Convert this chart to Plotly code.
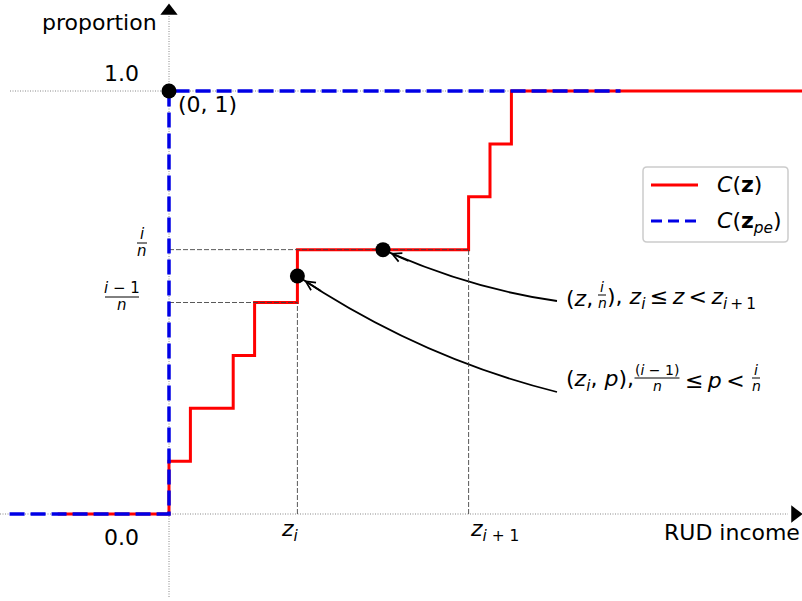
import plotly.graph_objects as go

# ---------------- data ----------------
z_steps = [0, 1, 3, 4, 6, 14, 15, 16]                       # jump points of C(z)
p_steps = [0.125, 0.25, 0.375, 0.5, 0.625, 0.75, 0.875, 1.0]  # proportions after each jump
red_start, red_end = -5.2, 30.0
blue_x = [-7.45, 0, 21.1]
blue_y = [0, 1, 1]
z_i, z_i1 = 6, 14
p_prev, p_i = 0.5, 0.625
pt_x = [0, 6, 10]
pt_y = [1.0, 0.5625, 0.625]

# ---------------- geometry ----------------
W, H = 802, 601
X0_PX, PX_X = 169, 21.4
Y0_PX, PX_Y = 514, 423
xr = [-X0_PX / PX_X, (W - X0_PX) / PX_X]
yr = [-(H - Y0_PX) / PX_Y, Y0_PX / PX_Y]


def dx(px):
    return (px - X0_PX) / PX_X


def dy(py):
    return (Y0_PX - py) / PX_Y


def paper(px, py):
    return px / W, 1 - py / H


FONT = "DejaVu Sans"
BASE = 22
TS = "\u2009"  # thin space

fig = go.Figure()

# red step function C(z)
red_x = [red_start] + z_steps + [red_end]
red_y = [0] + p_steps + [1.0]
fig.add_trace(go.Scatter(x=red_x, y=red_y, mode="lines", line_shape="hv",
                         line=dict(color="red", width=3), showlegend=False,
                         hoverinfo="skip"))

# guide dashed lines
gx = [0, z_i1, None, 0, z_i, None, z_i, z_i, None, z_i1, z_i1]
gy = [p_i, p_i, None, p_prev, p_prev, None, 0, p_prev, None, 0, p_i]
fig.add_trace(go.Scatter(x=gx, y=gy, mode="lines",
                         line=dict(color="rgba(60,60,60,0.85)", width=1, dash="5px,2px"),
                         showlegend=False, hoverinfo="skip"))

# blue dashed C(z_pe)
fig.add_trace(go.Scatter(x=blue_x, y=blue_y, mode="lines", line_shape="hv",
                         line=dict(color="#0000e6", width=3.5, dash="15px,6px"),
                         showlegend=False, hoverinfo="skip"))

# points
fig.add_trace(go.Scatter(x=pt_x, y=pt_y, mode="markers",
                         marker=dict(color="black", size=15),
                         showlegend=False, hoverinfo="skip"))

# axis arrow heads
fig.add_trace(go.Scatter(x=[dx(795), 0], y=[0, dy(11)], mode="markers",
                         marker=dict(color="black", size=15,
                                     symbol=["triangle-right", "triangle-up"]),
                         showlegend=False, hoverinfo="skip"))

shapes = []
dotted = dict(color="#888888", width=1, dash="1px,1.5px")
shapes.append(dict(type="line", xref="x", yref="y", x0=xr[0], x1=dx(788), y0=0, y1=0,
                   line=dotted, layer="below"))
shapes.append(dict(type="line", xref="x", yref="y", x0=0, x1=0, y0=dy(597), y1=dy(16),
                   line=dotted, layer="below"))
shapes.append(dict(type="line", xref="x", yref="y", x0=dx(10), x1=xr[1], y0=1, y1=1,
                   line=dotted, layer="below"))


# curved annotation arrows (quadratic bezier)
def curve(p0, c, p1):
    return dict(type="path", xref="x", yref="y",
                path=f"M {p0[0]},{p0[1]} Q {c[0]},{c[1]} {p1[0]},{p1[1]}",
                line=dict(color="black", width=1.8), layer="below")


shapes.append(curve((dx(557), dy(301)), (dx(471), dy(289)), (pt_x[2], pt_y[2])))
shapes.append(curve((dx(557), dy(392)), (dx(420), dy(358)), (pt_x[1], pt_y[1])))

annotations = []
annotations.append(dict(x=pt_x[2], y=pt_y[2], xref="x", yref="y", ax=27, ay=12,
                        text="", showarrow=True, arrowhead=5, arrowsize=1,
                        arrowwidth=1.8, standoff=8, arrowcolor="black"))
annotations.append(dict(x=pt_x[1], y=pt_y[1], xref="x", yref="y", ax=25, ay=16,
                        text="", showarrow=True, arrowhead=5, arrowsize=1,
                        arrowwidth=1.8, standoff=8, arrowcolor="black"))


def text(px, py, s, anchor="left", size=BASE, vanchor="middle"):
    x, y = paper(px, py)
    annotations.append(dict(x=x, y=y, xref="paper", yref="paper", text=s,
                            showarrow=False, xanchor=anchor, yanchor=vanchor,
                            font=dict(family=FONT, size=size, color="black"),
                            borderpad=0))


def frac(xc, ybar, num, den, barw, size=15):
    text(xc, ybar - 0.6 * size, num, anchor="center", size=size)
    text(xc, ybar + 0.55 * size, den, anchor="center", size=size)
    x0, y0 = paper(xc - barw / 2, ybar)
    x1, _ = paper(xc + barw / 2, ybar)
    shapes.append(dict(type="line", xref="paper", yref="paper", x0=x0, x1=x1,
                       y0=y0, y1=y0, line=dict(color="black", width=1)))


# axis labels / ticks
text(158, 23, "proportion", anchor="right")
text(121, 73, "1.0", anchor="center")
text(121, 537, "0.0", anchor="center")
text(801, 532, "RUD income", anchor="right")
text(290, 530, "<i>z<sub>i</sub></i>", anchor="center")
text(469, 530, "<i>z</i><sub><i>i</i> + 1</sub>", anchor="left")
text(177, 104, "(0, 1)", anchor="left")

# left fractions
frac(142, 243, "<i>i</i>", "<i>n</i>", 10)
frac(122, 297, "<i>i</i> − 1", "<i>n</i>", 34)

# annotation text 1
text(565, 298, "(<i>z</i>,", anchor="left")
frac(602, 295, "<i>i</i>", "<i>n</i>", 8, size=14)
text(606, 298, f"), <i>z<sub>i</sub></i>{TS}≤{TS}<i>z</i>{TS}<{TS}<i>z</i><sub><i>i</i>{TS}+{TS}1</sub>",
     anchor="left")

# annotation text 2
text(565, 380, "(<i>z<sub>i</sub></i>, <i>p</i>),", anchor="left")
frac(657, 378, "(<i>i</i> − 1)", "<i>n</i>", 45, size=14)
text(684, 380, f"≤{TS}<i>p</i>{TS}<", anchor="left")
frac(756, 378, "<i>i</i>", "<i>n</i>", 8, size=14)

# manual legend
lx0, ly0, lx1, ly1, r = 643, 167, 788, 242, 4
X = lambda p: p / W
Y = lambda p: 1 - p / H
legend_path = (f"M {X(lx0 + r)},{Y(ly0)} L {X(lx1 - r)},{Y(ly0)} Q {X(lx1)},{Y(ly0)} {X(lx1)},{Y(ly0 + r)} "
               f"L {X(lx1)},{Y(ly1 - r)} Q {X(lx1)},{Y(ly1)} {X(lx1 - r)},{Y(ly1)} "
               f"L {X(lx0 + r)},{Y(ly1)} Q {X(lx0)},{Y(ly1)} {X(lx0)},{Y(ly1 - r)} "
               f"L {X(lx0)},{Y(ly0 + r)} Q {X(lx0)},{Y(ly0)} {X(lx0 + r)},{Y(ly0)} Z")
shapes.append(dict(type="path", xref="paper", yref="paper", path=legend_path,
                   line=dict(color="#cccccc", width=1.5), fillcolor="rgba(255,255,255,0.8)",
                   layer="above"))
shapes.append(dict(type="line", xref="paper", yref="paper", x0=X(651), x1=X(698),
                   y0=Y(185), y1=Y(185), line=dict(color="red", width=3), layer="above"))
shapes.append(dict(type="line", xref="paper", yref="paper", x0=X(651), x1=X(698),
                   y0=Y(221), y1=Y(221), line=dict(color="#0000e6", width=3, dash="11px,6px"),
                   layer="above"))
text(716, 185, "<i>C</i>(<b>z</b>)")
text(716, 222, "<i>C</i>(<b>z</b><sub><i>pe</i></sub>)")

fig.update_layout(
    width=W, height=H, margin=dict(l=0, r=0, t=0, b=0),
    paper_bgcolor="white", plot_bgcolor="white",
    xaxis=dict(range=xr, visible=False, fixedrange=True),
    yaxis=dict(range=yr, visible=False, fixedrange=True),
    shapes=shapes, annotations=annotations, showlegend=False,
    font=dict(family=FONT),
)

fig.write_html("out.html", config={"displayModeBar": False},
               post_script="document.body.style.margin='0';")
